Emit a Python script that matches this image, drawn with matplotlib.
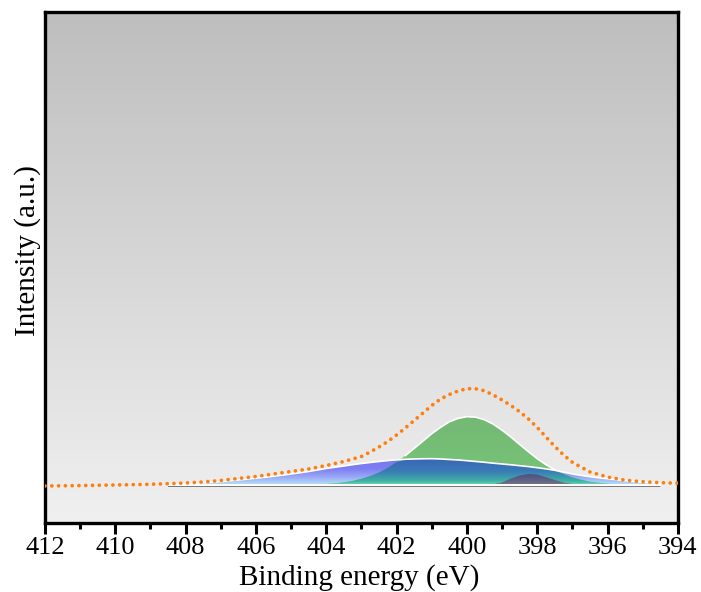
import numpy as np
import matplotlib
matplotlib.use('Agg')
import matplotlib.pyplot as plt
from matplotlib.colors import LinearSegmentedColormap

plt.rcParams['font.family'] = ['Liberation Serif', 'DejaVu Serif']

# N 1s spectrum, envelope
env_x = [412, 411, 410, 409, 408.5, 408, 407.5, 407, 406.5, 406, 405.5, 405, 404.5,
         404, 403.5, 403, 402.75, 402.5, 402.25, 402, 401.75, 401.5, 401.25, 401,
         400.75, 400.5, 400.25, 400, 399.75, 399.5, 399.25, 399, 398.75, 398.5,
         398.25, 398, 397.75, 397.5, 397.25, 397, 396.5, 396, 395.5, 395, 394.5, 394]
env_y = [-1.0, -0.6, 0.0, 0.7, 1.3, 2.0, 3.0, 4.5, 6.5, 8.5, 11.0, 13.5, 16.0,
         19.5, 23.5, 28.5, 33.0, 38.0, 43.5, 50.0, 57.0, 64.5, 72.0, 79.5,
         86.0, 90.5, 94.0, 96.3, 96.2, 94.2, 90.0, 85.0, 79.5, 73.3,
         66.0, 57.5, 48.0, 38.5, 30.0, 22.7, 13.0, 8.0, 4.8, 3.2, 2.3, 1.8]

# fitted components, sampled every 0.25 eV from 408.5 to 394.5
comp_x = np.arange(408.5, 394.49, -0.25)
blue = [0.5, 0.9, 1.3, 1.8, 2.3, 2.9, 3.5, 4.2, 5.0, 5.9, 6.8, 7.7, 8.7, 9.8, 11.0,
        12.2, 13.5, 15.0, 16.5, 17.8, 19.0, 20.3, 21.5, 22.5, 23.5, 24.4, 25.2,
        25.7, 26.0, 26.2, 26.3, 26.0, 25.5, 25.0, 24.3, 23.5, 22.7, 21.8, 21.0,
        20.2, 19.3, 18.4, 17.3, 16.1, 14.7, 12.8, 11.0, 9.6, 8.3, 7.2, 6.3, 5.3,
        4.3, 3.5, 2.8, 2.3, 1.8]
green = [0, 0, 0, 0, 0, 0, 0, 0, 0, 0, 0, 0, 0, 0, 0.1, 0.2, 0.3, 0.6, 1.0, 1.7,
         2.7, 4.1, 6.2, 9.0, 12.6, 17.3, 23.0, 29.4, 36.6, 43.9, 51.3, 57.6, 63.2,
         66.6, 68.3, 67.8, 65.2, 60.8, 54.8, 48.0, 40.5, 33.3, 26.3, 20.3, 15.0,
         10.9, 7.5, 5.2, 3.2, 2.2, 1.2, 0.7, 0.4, 0.2, 0.1, 0, 0]
purple = [0, 0, 0, 0, 0, 0, 0, 0, 0, 0, 0, 0, 0, 0, 0, 0, 0, 0, 0, 0, 0, 0, 0, 0,
          0, 0, 0, 0, 0, 0, 0, 0, 0, 0, 0, 0, 0.1, 0.7, 2.6, 6.5, 9.5, 11.0, 10.4,
          7.8, 5.0, 2.4, 1.0, 0.3, 0, 0, 0, 0, 0, 0, 0, 0, 0]

blue = np.array(blue)
green = np.array(green)
purple = np.array(purple)


def grad_fill(ax, x, lo, hi, stops, ylo, yhi, z):
    poly = ax.fill_between(x, lo, hi, facecolor='none', edgecolor='none', zorder=z)
    cmap = LinearSegmentedColormap.from_list('g', stops)
    img = ax.imshow(np.linspace(0, 1, 256).reshape(-1, 1), cmap=cmap, origin='lower',
                    extent=[x.max(), x.min(), ylo, yhi], aspect='auto', zorder=z,
                    interpolation='bilinear')
    img.set_clip_path(poly.get_paths()[0], transform=ax.transData)


fig = plt.figure(figsize=(7.01, 5.92), dpi=100)
ax = fig.add_axes([0.0642, 0.1166, 0.9028, 0.8631])

# grey gradient background
bg = LinearSegmentedColormap.from_list('bg', ['#f0f0f0', '#bebebe'])
ax.imshow(np.linspace(0, 1, 256).reshape(-1, 1), cmap=bg, origin='lower',
          extent=[0, 1, 0, 1], transform=ax.transAxes, aspect='auto', zorder=0)

# broad blue component
grad_fill(ax, comp_x, 0, blue, [(0, '#b4e2fa'), (0.3, '#9aa8f6'), (0.6, '#7e7ef2'),
                                 (1, '#7878f0')], 0, 26.5, 2)
# green component
grad_fill(ax, comp_x, -2, green, [(0, '#86f086'), (0.06, '#7cd47c'), (0.25, '#77c277'),
                                   (1, '#74b874')], -2, 69, 3)
gedge = np.where(green >= blue, green, np.nan)
ax.plot(comp_x, gedge, color='white', lw=1.2, zorder=4)
# overlap of blue and green
both = np.minimum(blue, green)
grad_fill(ax, comp_x, 0, both, [(0, '#66dcaa'), (0.15, '#3fb2a4'), (0.5, '#3a7cb6'),
                                 (1, '#3a64b4')], 0, 26.5, 4)
ax.plot(comp_x, blue, color='white', lw=1.2, zorder=5)
# small low-energy component
grad_fill(ax, comp_x, -2, purple, [(0, '#747474'), (0.2, '#6e7086'), (1, '#4e5082')],
          -2, 11, 6)

ax.plot([comp_x[0], comp_x[-1]], [0, 0], color='white', lw=1.5, zorder=7)

ax.plot(env_x, env_y, color='#ff7f0e', lw=2.7, linestyle=(0, (0.01, 1.8)),
        dash_capstyle='round', zorder=8)

ax.set_xlim(412, 394)
ax.set_ylim(-38, 473)
ax.set_xticks(np.arange(412, 393, -2))
ax.set_xticks(np.arange(411, 394, -2), minor=True)
ax.set_yticks([])
ax.tick_params(axis='x', which='major', direction='out', length=8, width=2.2,
               labelsize=19, pad=2)
ax.tick_params(axis='x', which='minor', direction='out', length=4, width=2.2)
for s in ax.spines.values():
    s.set_linewidth(2.4)

ax.set_xlabel('Binding energy (eV)', fontsize=21)
ax.xaxis.label.set_va('center')
ax.xaxis.set_label_coords(0.497, -0.107)
ax.set_ylabel('Intensity (a.u.)', fontsize=21)
ax.yaxis.label.set_va('center')
ax.yaxis.set_label_coords(-0.028, 0.534)

fig.savefig('out.png', dpi=100)
